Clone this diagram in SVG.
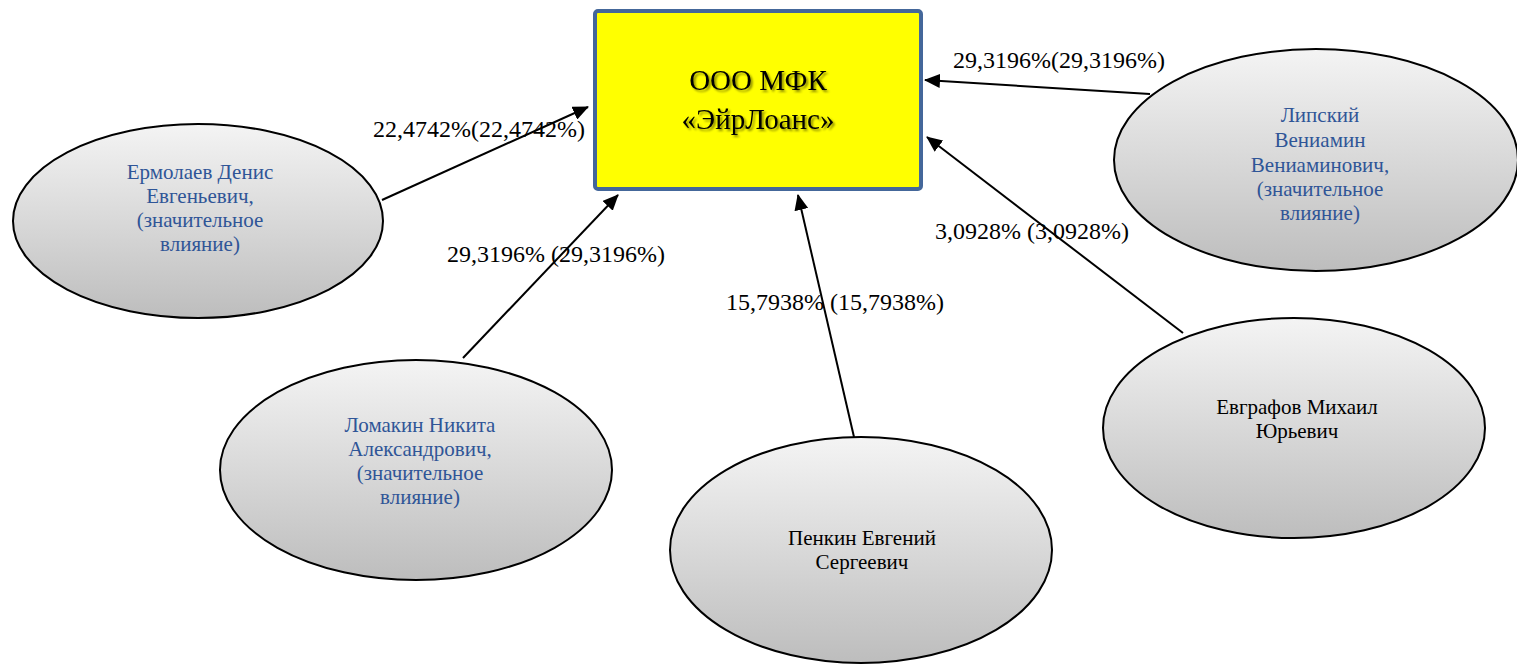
<svg xmlns="http://www.w3.org/2000/svg" width="1517" height="665" viewBox="0 0 1517 665">
<defs>
<linearGradient id="eg" x1="0" y1="0" x2="0" y2="1">
<stop offset="0" stop-color="#f4f4f4"/>
<stop offset="1" stop-color="#bdbdbd"/>
</linearGradient>
<marker id="ah" markerWidth="16" markerHeight="14" refX="15" refY="7" orient="auto" markerUnits="userSpaceOnUse">
<path d="M0,0 L16,7 L0,14 Z" fill="#000"/>
</marker>
<filter id="ts" x="-10%" y="-20%" width="120%" height="140%">
<feGaussianBlur in="SourceAlpha" stdDeviation="1.2"/>
<feOffset dx="1.5" dy="1.5" result="b"/>
<feFlood flood-color="#000" flood-opacity="0.45"/>
<feComposite in2="b" operator="in"/>
<feMerge><feMergeNode/><feMergeNode in="SourceGraphic"/></feMerge>
</filter>
</defs>
<style>
.ell{fill:url(#eg);stroke:#000;stroke-width:2}
.nt{font-family:"Liberation Serif","DejaVu Serif",serif;font-size:21px;text-anchor:middle}
.big{font-size:29px}
.blue{fill:#2f5597}
.blk{fill:#000}
.lbl{font-family:"Liberation Serif","DejaVu Serif",serif;font-size:24px;fill:#000}
.con{stroke:#000;stroke-width:2;fill:none;marker-end:url(#ah)}
</style>
<rect width="1517" height="665" fill="#fff"/>

<g id="connectors">
<line class="con" x1="382" y1="200" x2="588" y2="107"/>
<line class="con" x1="463" y1="358" x2="618" y2="195"/>
<line class="con" x1="854" y1="437" x2="798" y2="195"/>
<line class="con" x1="1183" y1="333" x2="927" y2="137"/>
<line class="con" x1="1150" y1="94" x2="925" y2="80"/>
</g>

<g id="labels">
<text class="lbl" x="373" y="137">22,4742%(22,4742%)</text>
<text class="lbl" x="447" y="262">29,3196% (29,3196%)</text>
<text class="lbl" x="726" y="310">15,7938% (15,7938%)</text>
<text class="lbl" x="935" y="239">3,0928% (3,0928%)</text>
<text class="lbl" x="953" y="68">29,3196%(29,3196%)</text>
</g>

<g id="main">
<rect x="595" y="11" width="326" height="178" rx="3" fill="#ffff00" stroke="#44679a" stroke-width="4"/>
<g filter="url(#ts)">
<text class="nt big" x="758" y="90">ООО МФК</text>
<text class="nt big" x="758" y="129">«ЭйрЛоанс»</text>
</g>
</g>

<g id="ermolaev">
<ellipse class="ell" cx="198" cy="221" rx="185" ry="97"/>
<text class="nt blue" x="200" y="179">Ермолаев Денис</text>
<text class="nt blue" x="200" y="203">Евгеньевич,</text>
<text class="nt blue" x="200" y="227">(значительное</text>
<text class="nt blue" x="200" y="251">влияние)</text>
</g>

<g id="lomakin">
<ellipse class="ell" cx="416" cy="470" rx="196" ry="110"/>
<text class="nt blue" x="420" y="432">Ломакин Никита</text>
<text class="nt blue" x="420" y="456">Александрович,</text>
<text class="nt blue" x="420" y="480">(значительное</text>
<text class="nt blue" x="420" y="504">влияние)</text>
</g>

<g id="penkin">
<ellipse class="ell" cx="861" cy="550" rx="191" ry="113"/>
<text class="nt blk" x="862" y="545">Пенкин Евгений</text>
<text class="nt blk" x="862" y="569">Сергеевич</text>
</g>

<g id="evgrafov">
<ellipse class="ell" cx="1294" cy="428" rx="191" ry="110"/>
<text class="nt blk" x="1297" y="414">Евграфов Михаил</text>
<text class="nt blk" x="1297" y="438">Юрьевич</text>
</g>

<g id="lipsky">
<ellipse class="ell" cx="1316" cy="160" rx="202" ry="111"/>
<text class="nt blue" x="1320" y="122">Липский</text>
<text class="nt blue" x="1320" y="147">Вениамин</text>
<text class="nt blue" x="1320" y="172">Вениаминович,</text>
<text class="nt blue" x="1320" y="196">(значительное</text>
<text class="nt blue" x="1320" y="220">влияние)</text>
</g>
</svg>
